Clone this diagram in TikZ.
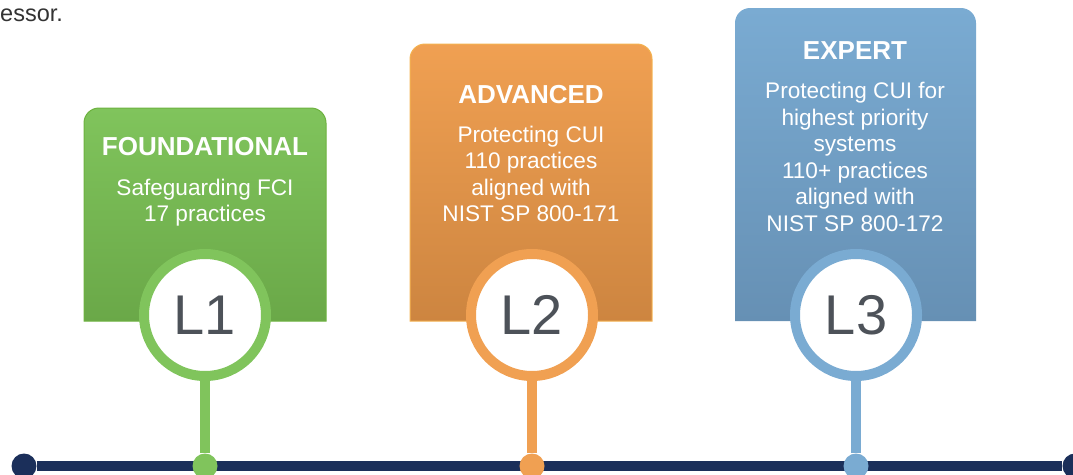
\documentclass[tikz,border=0pt]{standalone}
\usepackage{fontspec}
\setmainfont{Liberation Sans}
\usetikzlibrary{positioning}
\definecolor{grnTop}{HTML}{80C45C}
\definecolor{grnBot}{HTML}{6AA848}
\definecolor{grnEdge}{HTML}{6DB23F}
\definecolor{orgTop}{HTML}{F0A052}
\definecolor{orgBot}{HTML}{CD8540}
\definecolor{orgEdge}{HTML}{F4B250}
\definecolor{bluTop}{HTML}{7AABD2}
\definecolor{bluBot}{HTML}{6690B4}
\definecolor{navy}{HTML}{1B2F5A}
\definecolor{lvlgray}{HTML}{4D5259}
\definecolor{txtgray}{HTML}{333333}

\begin{document}
\begin{tikzpicture}
[x=1pt,y=-1pt,
title/.style={text=white,font=\fontsize{26}{30}\selectfont\bfseries,inner sep=0pt,anchor=base},
body/.style={text=white,font=\fontsize{22.6}{26.5}\selectfont,align=center,inner sep=0pt},
ring/.style={circle,fill=white,line width=10pt,minimum size=122pt,inner sep=0pt,text=lvlgray,font=\fontsize{56}{60}\selectfont},
stem/.style={line width=10.5pt},
dot/.style={circle,minimum size=25pt,inner sep=0pt}]

\useasboundingbox (0,0) rectangle (1073,474);

\node [anchor=base west,inner sep=0pt,text=txtgray,font=\fontsize{23.5}{26}\selectfont] (prev) at (0,21) {essor.};

\path [draw=grnEdge,line width=1pt,top color=grnTop,middle color=grnTop,bottom color=grnBot]
	(84,321) -- (84,123) arc[start angle=180,end angle=270,radius=15]
	-- (311,108) arc[start angle=270,end angle=360,radius=15] -- (326,321) -- cycle;
\path [draw=orgEdge,line width=1pt,top color=orgTop,middle color=orgTop,bottom color=orgBot]
	(410,321) -- (410,59) arc[start angle=180,end angle=270,radius=15]
	-- (637,44) arc[start angle=270,end angle=360,radius=15] -- (652,321) -- cycle;
\path [top color=bluTop,middle color=bluTop,bottom color=bluBot]
	(735,321) -- (735,23) arc[start angle=180,end angle=270,radius=15]
	-- (961,8) arc[start angle=270,end angle=360,radius=15] -- (976,321) -- cycle;

\node [title] (t1) at (205,155) {FOUNDATIONAL};
\node [body,below=23pt of t1] (b1) {Safeguarding FCI\\17 practices};
\node [title] (t2) at (531,103) {ADVANCED};
\node [body,below=22pt of t2] (b2) {Protecting CUI\\110 practices\\aligned with\\NIST SP 800-171};
\node [title] (t3) at (855,59) {EXPERT};
\node [body,below=23pt of t3] (b3) {Protecting CUI for\\highest priority\\systems\\110+ practices\\aligned with\\NIST SP 800-172};

\node [dot,fill=navy] (start) at (24,466) {};
\node [dot,fill=navy] (end) at (1075,466) {};
\draw [navy,line width=9.5pt] (start) -- (end);

\node [ring,draw=grnTop] (c1) at (205,315) {L1};
\node [ring,draw=orgTop] (c2) at (532,315) {L2};
\node [ring,draw=bluTop] (c3) at (856,315) {L3};

\node [dot,fill=grnTop] (d1) at (205,466) {};
\node [dot,fill=orgTop] (d2) at (532,466) {};
\node [dot,fill=bluTop] (d3) at (856,466) {};

\draw [stem,grnTop] (c1.south) -- (d1);
\draw [stem,orgTop] (c2.south) -- (d2);
\draw [stem,bluTop] (c3.south) -- (d3);
\end{tikzpicture}
\end{document}
